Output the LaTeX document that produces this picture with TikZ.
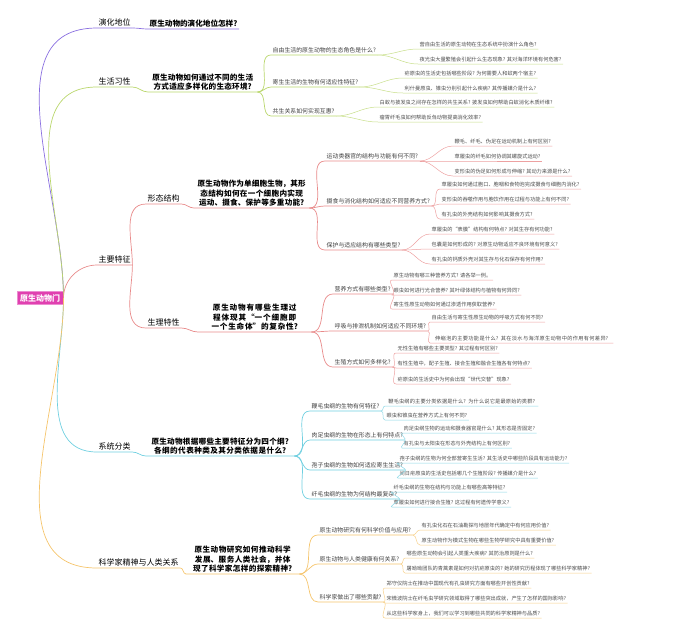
\documentclass[tikz,border=0pt]{standalone}
\usepackage{fontspec}
\setmainfont{Noto Sans CJK SC}
\XeTeXlinebreaklocale "zh"
\XeTeXlinebreakskip=0pt plus 1pt
\usetikzlibrary{positioning}
\definecolor{cevo}{HTML}{8A6FE0}
\definecolor{chab}{HTML}{B9D66B}
\definecolor{cmain}{HTML}{E88A8A}
\definecolor{csys}{HTML}{6FCFE0}
\definecolor{csci}{HTML}{F5C46B}
\definecolor{croot}{HTML}{E040B0}
\tikzset{
  lvl/.style={anchor=south west, inner sep=1.5pt, font=\fontsize{8}{9}\selectfont},
  ques/.style={anchor=south west, inner sep=1.5pt, font=\fontsize{7.6}{9.4}\selectfont\bfseries, align=center},
  sub/.style={anchor=south west, inner sep=1.5pt, font=\fontsize{5.9}{7.2}\selectfont, text=black!75},
  leaf/.style={anchor=south west, inner sep=1.5pt, font=\fontsize{5.2}{6.4}\selectfont, text=black!70},
  br/.style={line width=0.7pt},
  up/.style={out=90, in=180},
  dn/.style={out=-90, in=180},
  fl/.style={out=0, in=180}
}
\begin{document}
\begin{tikzpicture}[x=1pt, y=-1pt]
\useasboundingbox (0,0) rectangle (680,630);

% root
\node[fill=croot, draw=croot!60, line width=1pt, text=white, inner sep=3pt,
      font=\fontsize{8}{9}\selectfont\bfseries] (root) at (40,298) {原生动物门};

% level one
\node[lvl] (evo) at (97,28) {演化地位};
\node[lvl] (hab) at (97,87) {生活习性};
\node[lvl] (main) at (97,265) {主要特征};
\node[lvl] (sys) at (97,452) {系统分类};
\node[lvl] (sci) at (97,568) {科学家精神与人类关系};

\draw[br, cevo] (root.east) to[up] (evo.south west) -- (evo.south east);
\draw[br, chab] (root.east) to[up] (hab.south west) -- (hab.south east);
\draw[br, cmain] (root.east) to[up] (main.south west) -- (main.south east);
\draw[br, csys] (root.east) to[dn] (sys.south west) -- (sys.south east);
\draw[br, csci] (root.east) to[dn] (sci.south west) -- (sci.south east);

% evolution
\node[ques] (evoQ) at (148,29) {原生动物的演化地位怎样?};
\draw[br, cevo] (evo.south east) to[fl] (evoQ.south west) -- (evoQ.south east);

% habits
\node[ques, text width=106pt] (habQ) at (148,92) {原生动物如何通过不同的生活方式适应多样化的生态环境?};
\draw[br, chab] (hab.south east) to[fl] (habQ.south west) -- (habQ.south east);
\node[sub] (h1) at (271,55) {自由生活的原生动物的生态角色是什么?};
\node[sub] (h2) at (271,87) {寄生生活的生物有何适应性特征?};
\node[sub] (h3) at (271,116) {共生关系如何实现互惠?};
\foreach \s in {h1,h2,h3}
  \draw[br, chab] (habQ.south east) to[fl] (\s.south west) -- (\s.south east);
\foreach \i/\x/\y/\t/\p in {
    a/418/49/营自由生活的原生动物在生态系统中扮演什么角色?/h1,
    b/418/64/夜光虫大量繁殖会引起什么生态现象? 其对海洋环境有何危害?/h1,
    c/403/78/疟原虫的生活史包括哪些阶段? 为何需要人和蚊两个宿主?/h2,
    d/403/93/利什曼原虫、锥虫分别引起什么疾病? 其传播媒介是什么?/h2,
    e/378/107/白蚁与披发虫之间存在怎样的共生关系? 披发虫如何帮助白蚁消化木质纤维?/h3,
    f/378/122/瘤胃纤毛虫如何帮助反刍动物提高消化效率?/h3}
{
  \node[leaf] (hl\i) at (\x,\y) {\t};
  \draw[br, chab!80, line width=0.5pt] (\p.south east) to[fl] (hl\i.south west) -- (hl\i.south east);
}

% main features
\node[lvl] (mor) at (146,204) {形态结构};
\node[lvl] (phy) at (146,328) {生理特性};
\draw[br, cmain] (main.south east) to[up] (mor.south west) -- (mor.south east);
\draw[br, cmain] (main.south east) to[dn] (phy.south west) -- (phy.south east);

\node[ques, text width=112pt] (morQ) at (194,208) {原生动物作为单细胞生物，其形态结构如何在一个细胞内实现运动、摄食、保护等多重功能?};
\draw[br, cmain] (mor.south east) to[fl] (morQ.south west) -- (morQ.south east);
\node[sub] (m1) at (325,161) {运动类器官的结构与功能有何不同?};
\node[sub] (m2) at (325,206) {摄食与消化结构如何适应不同营养方式?};
\node[sub] (m3) at (325,250) {保护与适应结构有哪些类型?};
\foreach \s in {m1,m2,m3}
  \draw[br, cmain] (morQ.south east) to[fl] (\s.south west) -- (\s.south east);
\foreach \i/\x/\y/\t/\p in {
    a/453/146/鞭毛、纤毛、伪足在运动机制上有何区别?/m1,
    b/453/161/草履虫的纤毛如何协调其螺旋式运动?/m1,
    c/453/176/变形虫的伪足如何形成与伸缩? 其动力来源是什么?/m1,
    d/440/189/草履虫如何通过胞口、胞咽和食物泡完成摄食与细胞内消化?/m2,
    e/440/204/变形虫的吞噬作用与胞饮作用在过程与功能上有何不同?/m2,
    f/440/219/有孔虫的外壳结构如何影响其摄食方式?/m2,
    g/430/234/草履虫的“表膜”结构有何特点? 对其生存有何功能?/m3,
    h/430/249/包囊是如何形成的? 对原生动物适应不良环境有何意义?/m3,
    i/430/264/有孔虫的钙质外壳对其生存与化石保存有何作用?/m3}
{
  \node[leaf] (ml\i) at (\x,\y) {\t};
  \draw[br, cmain!80, line width=0.5pt] (\p.south east) to[fl] (ml\i.south west) -- (ml\i.south east);
}

\node[ques, text width=110pt] (phyQ) at (198,332) {原生动物有哪些生理过程体现其“一个细胞即一个生命体”的复杂性?};
\draw[br, cmain] (phy.south east) to[fl] (phyQ.south west) -- (phyQ.south east);
\node[sub] (p1) at (333,294) {营养方式有哪些类型?};
\node[sub] (p2) at (333,331) {呼吸与排泄机制如何适应不同环境?};
\node[sub] (p3) at (333,367) {生殖方式如何多样化?};
\foreach \s in {p1,p2,p3}
  \draw[br, cmain] (phyQ.south east) to[fl] (\s.south west) -- (\s.south east);
\foreach \i/\x/\y/\t/\p in {
    a/392/280/原生动物有哪三种营养方式? 请各举一例。/p1,
    b/392/295/眼虫如何进行光合营养? 其叶绿体结构与植物有何异同?/p1,
    c/392/309/寄生性原生动物如何通过渗透作用获取营养?/p1,
    d/430/322/自由生活与寄生性原生动物的呼吸方式有何不同?/p2,
    f/396/353/无性生殖有哪些主要类型? 其过程有何区别?/p3,
    g/396/368/有性生殖中，配子生殖、接合生殖和融合生殖各有何特点?/p3,
    h/396/384/疟原虫的生活史中为何会出现“世代交替”现象?/p3}
{
  \node[leaf] (pl\i) at (\x,\y) {\t};
  \draw[br, cmain!80, line width=0.5pt] (\p.south east) to[fl] (pl\i.south west) -- (pl\i.south east);
}
\node[leaf, text width=180pt, align=center] (ple) at (430,343) {伸缩泡的主要功能是什么? 其在淡水与海洋原生动物中的作用有何差异?};
\draw[br, cmain!80, line width=0.5pt] (p2.south east) to[fl] (ple.south west) -- (ple.south east);

% classification
\node[ques, text width=145pt] (sysQ) at (146,456) {原生动物根据哪些主要特征分为四个纲? 各纲的代表种类及其分类依据是什么?};
\draw[br, csys] (sys.south east) to[fl] (sysQ.south west) -- (sysQ.south east);
\node[sub] (c1) at (310,411) {鞭毛虫纲的生物有何特征?};
\node[sub] (c2) at (310,440) {肉足虫纲的生物在形态上有何特点?};
\node[sub] (c3) at (310,470) {孢子虫纲的生物如何适应寄生生活?};
\node[sub] (c4) at (310,499) {纤毛虫纲的生物为何结构最复杂?};
\foreach \s in {c1,c2,c3,c4}
  \draw[br, csys] (sysQ.south east) to[fl] (\s.south west) -- (\s.south east);
\node[leaf, text width=150pt, align=center] (cla) at (385,406) {鞭毛虫纲的主要分类依据是什么? 为什么说它是最原始的类群?};
\draw[br, csys!80, line width=0.5pt] (c1.south east) to[fl] (cla.south west) -- (cla.south east);
\foreach \i/\x/\y/\t/\p in {
    b/385/420/眼虫和锥虫在营养方式上有何不同?/c1,
    c/402/433/肉足虫纲生物的运动和摄食器官是什么? 其形态是否固定?/c2,
    d/402/448/有孔虫与太阳虫在形态与外壳结构上有何区别?/c2,
    e/398/463/孢子虫纲的生物为何全部营寄生生活? 其生活史中哪些阶段具有运动能力?/c3,
    f/398/478/间日疟原虫的生活史包括哪几个生殖阶段? 传播媒介是什么?/c3,
    g/392/492/纤毛虫纲的生物在结构与功能上有哪些高等特征?/c4,
    h/392/507/草履虫如何进行接合生殖? 这过程有何遗传学意义?/c4}
{
  \node[leaf] (cl\i) at (\x,\y) {\t};
  \draw[br, csys!80, line width=0.5pt] (\p.south east) to[fl] (cl\i.south west) -- (cl\i.south east);
}

% scientists
\node[ques, text width=110pt] (sciQ) at (186,574) {原生动物研究如何推动科学发展、服务人类社会，并体现了科学家怎样的探索精神?};
\draw[br, csci] (sci.south east) to[fl] (sciQ.south west) -- (sciQ.south east);
\node[sub] (s1) at (318,535) {原生动物研究有何科学价值与应用?};
\node[sub] (s2) at (318,564) {原生动物与人类健康有何关系?};
\node[sub] (s3) at (318,602) {科学家做出了哪些贡献?};
\foreach \s in {s1,s2,s3}
  \draw[br, csci] (sciQ.south east) to[fl] (\s.south west) -- (\s.south east);
\foreach \i/\x/\y/\t/\p in {
    a/420/530/有孔虫化石在石油勘探与地层年代确定中有何应用价值?/s1,
    b/420/545/原生动物作为模式生物在哪些生物学研究中具有重要价值?/s1,
    c/405/558/哪些原生动物会引起人类重大疾病? 其防治原则是什么?/s2,
    d/405/573/屠呦呦团队的青蒿素是如何对抗疟原虫的? 她的研究历程体现了哪些科学家精神?/s2,
    e/385/588/郑守仪院士在推动中国现代有孔虫研究方面有哪些开创性贡献?/s3,
    f/385/603/宋微波院士在纤毛虫学研究领域取得了哪些突出成就，产生了怎样的国际影响?/s3,
    g/385/618/从这些科学家身上，我们可以学习到哪些共同的科学家精神与品质?/s3}
{
  \node[leaf] (sl\i) at (\x,\y) {\t};
  \draw[br, csci!80, line width=0.5pt] (\p.south east) to[fl] (sl\i.south west) -- (sl\i.south east);
}
\end{tikzpicture}
\end{document}
